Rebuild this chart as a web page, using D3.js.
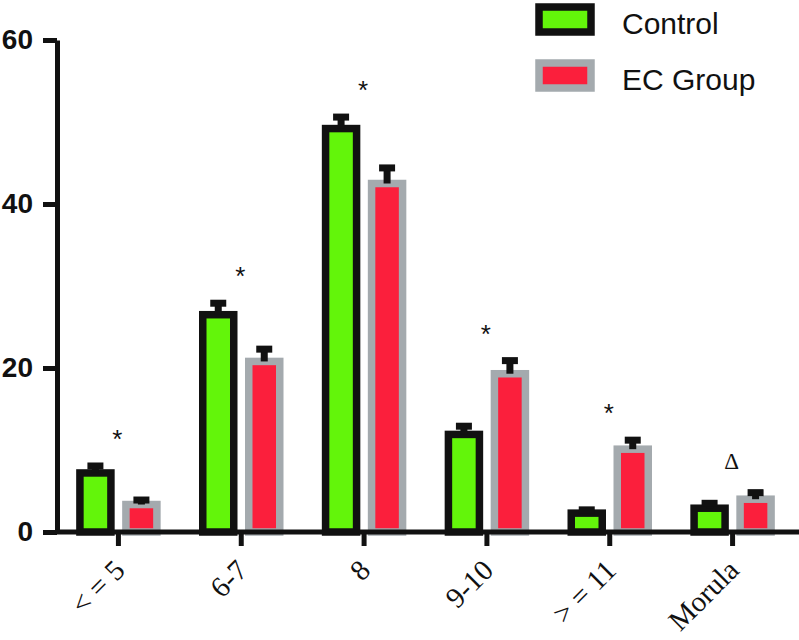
<!DOCTYPE html>
<html>
<head>
<meta charset="utf-8">
<script src="https://cdnjs.cloudflare.com/ajax/libs/d3/7.8.5/d3.min.js"></script>
<style>
  body { margin: 0; background: #fff; }
  svg { display: block; }
</style>
</head>
<body>
<div id="chart"></div>
<script>
var categories = ["< = 5", "6-7", "8", "9-10", "> = 11", "Morula"];
var series = ["Control", "EC Group"];
var control_values = [7.2, 26.5, 49.2, 11.9, 2.3, 2.9];
var control_errors = [0.85, 1.4, 1.4, 1.0, 0.4, 0.6];
var ec_values = [3.35, 20.8, 42.5, 19.3, 10.1, 4.0];
var ec_errors = [0.55, 1.5, 1.9, 1.6, 1.1, 0.8];
var marks = ["*", "*", "*", "*", "*", "\u0394"];
var y_ticks = [0, 20, 40, 60];

var fills = {"Control": "#63f50a", "EC Group": "#fb1f3c"};
var strokes = {"Control": "#111111", "EC Group": "#a4aaae"};

var width = 799, height = 640;

var svg = d3.select("#chart").append("svg")
    .attr("width", width)
    .attr("height", height);

var x = d3.scaleBand().domain(categories).range([57, 794]);
var xs = d3.scaleBand().domain(series).range([-38.5, 38.5]).paddingInner(0.326);
var y = d3.scaleLinear().domain([0, 60]).range([532, 40]);

function center(c) { return x(c) + x.bandwidth() / 2; }

var rows = [];
categories.forEach(function(c, i) {
    rows.push({cat: c, s: "Control", v: control_values[i], e: control_errors[i]});
    rows.push({cat: c, s: "EC Group", v: ec_values[i], e: ec_errors[i]});
});

///////////// BARS /////////////
svg.append("g").selectAll("rect")
    .data(rows)
    .enter().append("rect")
    .attr("x", function(d) { return center(d.cat) + xs(d.s); })
    .attr("width", xs.bandwidth())
    .attr("y", function(d) { return y(d.v); })
    .attr("height", function(d) { return y(0) - y(d.v); })
    .attr("fill", function(d) { return fills[d.s]; })
    .attr("stroke", function(d) { return strokes[d.s]; })
    .attr("stroke-width", 7.5);

///////////// ERROR BARS /////////////
var err_g = svg.append("g").selectAll("g")
    .data(rows)
    .enter().append("g")
    .attr("transform", function(d) {
        return "translate(" + (center(d.cat) + xs(d.s) + xs.bandwidth() / 2) + ",0)";
    });

err_g.append("line")
    .attr("x1", 0).attr("x2", 0)
    .attr("y1", function(d) { return y(d.v); })
    .attr("y2", function(d) { return y(d.v + d.e); })
    .attr("stroke", "#111")
    .attr("stroke-width", 7);

err_g.append("line")
    .attr("x1", -8).attr("x2", 8)
    .attr("y1", function(d) { return y(d.v + d.e); })
    .attr("y2", function(d) { return y(d.v + d.e); })
    .attr("stroke", "#111")
    .attr("stroke-width", 7);

///////////// AXES /////////////
var y_axis = svg.append("g")
    .attr("transform", "translate(57,0)")
    .call(d3.axisLeft(y).tickValues(y_ticks).tickSize(14).tickSizeOuter(0).tickPadding(10));

y_axis.select(".domain").attr("stroke", "#111").attr("stroke-width", 5);
y_axis.selectAll(".tick line").attr("stroke", "#111").attr("stroke-width", 5);
y_axis.selectAll(".tick text")
    .attr("fill", "#111")
    .style("font-family", "'Liberation Sans', Arial, sans-serif")
    .style("font-weight", "bold")
    .style("font-size", "28px");

var x_axis = svg.append("g")
    .attr("transform", "translate(0," + y(0) + ")")
    .call(d3.axisBottom(x).tickSize(14).tickSizeOuter(0));

x_axis.select(".domain").remove();
x_axis.insert("line", ":first-child")
    .attr("x1", 55).attr("x2", width)
    .attr("stroke", "#111")
    .attr("stroke-width", 5);
x_axis.selectAll(".tick line").attr("stroke", "#111").attr("stroke-width", 5);
x_axis.selectAll(".tick text")
    .attr("x", 0).attr("y", 0).attr("dy", 0)
    .attr("transform", "translate(8,40) rotate(-45)")
    .attr("fill", "#111")
    .style("text-anchor", "end")
    .style("font-family", "'Liberation Serif', 'Times New Roman', serif")
    .style("font-size", "29px");

///////////// SIGNIFICANCE MARKS /////////////
svg.append("g").selectAll("text")
    .data(categories)
    .enter().append("text")
    .attr("x", function(d) { return center(d) - 1; })
    .attr("y", function(d, i) {
        var top = y(Math.max(control_values[i] + control_errors[i], ec_values[i] + ec_errors[i]));
        return marks[i] == "*" ? top - 18 : top - 24;
    })
    .attr("text-anchor", "middle")
    .attr("fill", "#111")
    .style("font-family", function(d, i) {
        return marks[i] == "*" ? "'Liberation Sans', Arial, sans-serif" : "'Liberation Serif', 'Times New Roman', serif";
    })
    .style("font-size", function(d, i) { return marks[i] == "*" ? "26px" : "23px"; })
    .text(function(d, i) { return marks[i]; });

///////////// LEGEND /////////////
var legend = svg.append("g").selectAll("g")
    .data(series)
    .enter().append("g")
    .attr("transform", function(d, i) { return "translate(0," + (i * 56) + ")"; });

legend.append("rect")
    .attr("x", 539).attr("y", 7)
    .attr("width", 52).attr("height", 25)
    .attr("fill", function(d) { return fills[d]; })
    .attr("stroke", function(d) { return strokes[d]; })
    .attr("stroke-width", 7.5);

legend.append("text")
    .attr("x", 622).attr("y", 34)
    .attr("fill", "#111")
    .style("font-family", "'Liberation Sans', Arial, sans-serif")
    .style("font-size", "30px")
    .text(function(d) { return d; });
</script>
</body>
</html>
